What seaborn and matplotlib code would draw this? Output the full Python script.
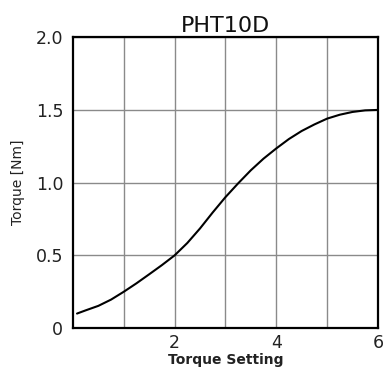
import matplotlib
matplotlib.use("Agg")
import matplotlib.pyplot as plt
import seaborn as sns
import pandas as pd
from matplotlib.ticker import FixedLocator

setting = [0.08, 0.25, 0.5, 0.75, 1.0, 1.25, 1.5, 1.75, 2.0, 2.25, 2.5, 2.75, 3.0,
           3.25, 3.5, 3.75, 4.0, 4.25, 4.5, 4.75, 5.0, 5.25, 5.5, 5.75, 6.0]
torque = [0.10, 0.122, 0.153, 0.196, 0.25, 0.308, 0.37, 0.433, 0.50, 0.585, 0.685, 0.795, 0.90,
          0.995, 1.085, 1.165, 1.235, 1.30, 1.355, 1.40, 1.44, 1.467, 1.486, 1.497, 1.50]
x_ticks = [2, 4, 6]
x_minor = [1, 3, 5]
y_ticks = [0, 0.5, 1.0, 1.5, 2.0]
y_labels = ["0", "0.5", "1.0", "1.5", "2.0"]

sns.set_style("white")
plt.rcParams['font.family'] = ['DejaVu Sans']

df = pd.DataFrame({"setting": setting, "torque": torque})
fig = plt.figure(figsize=(3.84, 3.72), dpi=100)
ax = fig.add_axes([0.190, 0.118, 0.794, 0.782])
sns.lineplot(data=df, x="setting", y="torque", ax=ax, color="black", linewidth=1.5)

ax.set_xlim(0, 6)
ax.set_ylim(0, 2.0)
ax.set_xticks(x_ticks)
ax.xaxis.set_minor_locator(FixedLocator(x_minor))
ax.set_yticks(y_ticks)
ax.set_yticklabels(y_labels)
ax.grid(True, which="both", color="#8a8a8a", linewidth=1.0)
ax.set_axisbelow(True)
ax.tick_params(axis="both", which="both", length=0, labelsize=12.5, colors="#222222")
ax.tick_params(axis="x", pad=4)
ax.tick_params(axis="y", pad=7)
for s in ax.spines.values():
    s.set_color("black")
    s.set_linewidth(1.6)
ax.set_xlabel("Torque Setting", fontsize=10, fontweight="semibold", labelpad=1, color="#222222")
ax.set_ylabel("Torque [Nm]", fontsize=10, labelpad=8, color="#222222")
ax.set_title("PHT10D", fontsize=16, pad=4, color="#111111")
fig.savefig("out.png", dpi=100)
